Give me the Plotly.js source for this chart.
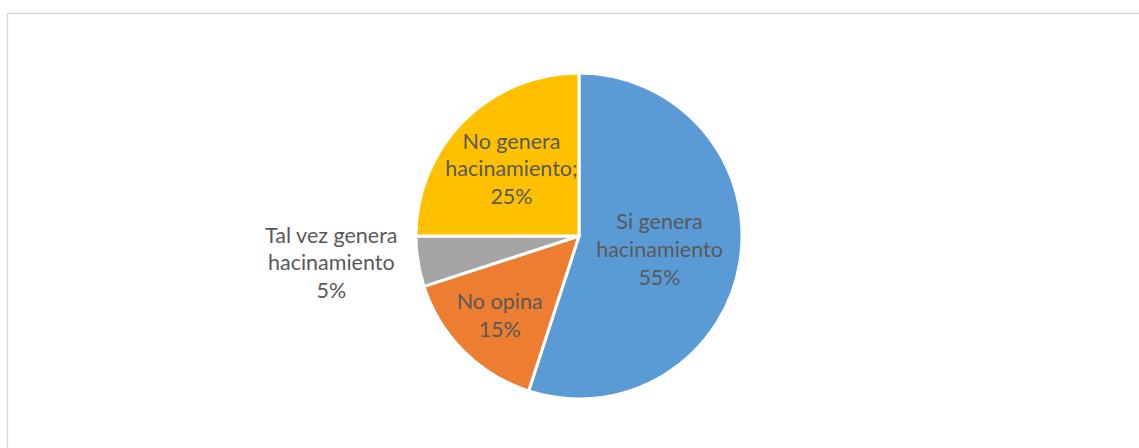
<!DOCTYPE html>
<html>
<head>
<meta charset="utf-8">
<script src="https://cdn.plot.ly/plotly-3.0.1.min.js"></script>
<style>
html,body{margin:0;padding:0;background:#fff;}
#chart{width:1139px;height:448px;}
</style>
</head>
<body>
<div id="chart"></div>
<script>
var categories = ["Si genera hacinamiento", "No opina", "Tal vez genera hacinamiento", "No genera hacinamiento"];
var values = [55, 15, 5, 25];
var labelTexts = ["Si genera<br>hacinamiento<br>55%", "No opina<br>15%", "Tal vez genera<br>hacinamiento<br>5%", "No genera<br>hacinamiento;<br>25%"];
var colors = ["#5B9BD5", "#ED7D31", "#A5A5A5", "#FFC000"];
var positions = ["inside", "inside", "outside", "inside"];

var W = 1139, H = 448;
var trace = {
  type: "pie",
  labels: categories,
  values: values,
  text: labelTexts,
  textinfo: "text",
  textposition: positions,
  insidetextorientation: "horizontal",
  sort: false,
  direction: "clockwise",
  rotation: 0,
  hoverinfo: "none",
  marker: {colors: colors, line: {color: "#ffffff", width: 3}},
  textfont: {family: "Lato, 'Open Sans', sans-serif", size: 21.5, color: "#595959"},
  domain: {x: [416 / W, 742 / W], y: [1 - 399 / H, 1 - 73 / H]},
  showlegend: false
};
var layout = {
  width: W, height: H,
  margin: {l: 0, r: 0, t: 0, b: 0},
  paper_bgcolor: "#ffffff",
  uniformtext: {mode: "show", minsize: 21.5},
  shapes: [
    {type: "line", xref: "paper", yref: "paper", x0: 7.5 / W, x1: 1, y0: 1 - 13.5 / H, y1: 1 - 13.5 / H, line: {color: "#D9D9D9", width: 1.5}},
    {type: "line", xref: "paper", yref: "paper", x0: 7.5 / W, x1: 7.5 / W, y0: 0, y1: 1 - 13.5 / H, line: {color: "#D9D9D9", width: 1.5}}
  ]
};
Plotly.newPlot("chart", [trace], layout, {displayModeBar: false, staticPlot: true});
</script>
</body>
</html>
